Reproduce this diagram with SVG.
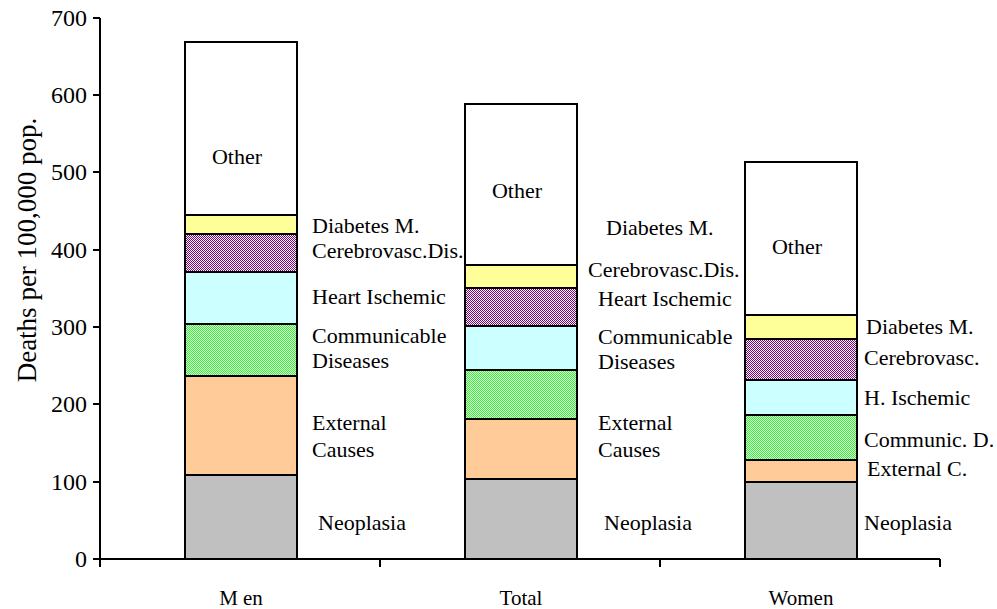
<svg xmlns="http://www.w3.org/2000/svg" width="997" height="609" viewBox="0 0 997 609">
<style>
text{font-family:"Liberation Serif","Times New Roman",serif;font-size:22px;fill:#000}
.ax{stroke:#000;stroke-width:2;fill:none}
.seg{stroke:#000;stroke-width:2}
.tick{font-size:24px}
</style>
<defs>
<pattern id="purp" width="2" height="2" patternUnits="userSpaceOnUse">
<rect width="2" height="2" fill="#ffffff"/>
<rect width="1" height="1" fill="#800080"/>
<rect x="1" y="1" width="1" height="1" fill="#800080"/>
</pattern>
<pattern id="grn" width="2" height="2" patternUnits="userSpaceOnUse">
<rect width="2" height="2" fill="#ccffcc"/>
<rect width="1" height="1" fill="#4ce64c"/>
<rect x="1" y="1" width="1" height="1" fill="#4ce64c"/>
</pattern>
</defs>
<rect width="997" height="609" fill="#fff"/>
<g id="axes">
<line class="ax" x1="100" y1="18" x2="100" y2="559"/>
<line class="ax" x1="100" y1="559" x2="940" y2="559"/>
<g class="ax">
<line x1="93" y1="18" x2="100" y2="18"/>
<line x1="93" y1="95" x2="100" y2="95"/>
<line x1="93" y1="172" x2="100" y2="172"/>
<line x1="93" y1="250" x2="100" y2="250"/>
<line x1="93" y1="327" x2="100" y2="327"/>
<line x1="93" y1="404" x2="100" y2="404"/>
<line x1="93" y1="482" x2="100" y2="482"/>
<line x1="93" y1="559" x2="100" y2="559"/>
<line x1="100" y1="559" x2="100" y2="567"/>
<line x1="380" y1="559" x2="380" y2="567"/>
<line x1="660" y1="559" x2="660" y2="567"/>
<line x1="940" y1="559" x2="940" y2="567"/>
</g>
<g text-anchor="end">
<text class="tick" x="87" y="26">700</text>
<text class="tick" x="87" y="103">600</text>
<text class="tick" x="87" y="180">500</text>
<text class="tick" x="87" y="258">400</text>
<text class="tick" x="87" y="335">300</text>
<text class="tick" x="87" y="412">200</text>
<text class="tick" x="87" y="490">100</text>
<text class="tick" x="87" y="567">0</text>
</g>
<text x="36" y="250" text-anchor="middle" transform="rotate(-90 36 250)" style="font-size:27px">Deaths per 100,000 pop.</text>
<text x="241" y="605" text-anchor="middle" style="font-size:21px">M en</text>
<text x="521" y="605" text-anchor="middle" style="font-size:21px">Total</text>
<text x="801" y="605" text-anchor="middle" style="font-size:21px">Women</text>
</g>
<g id="bar-men">
<rect class="seg" x="185" y="475" width="112" height="84" fill="#c0c0c0"/>
<rect class="seg" x="185" y="376" width="112" height="99" fill="#ffcc99"/>
<rect class="seg" x="185" y="324" width="112" height="52" fill="url(#grn)"/>
<rect class="seg" x="185" y="272" width="112" height="52" fill="#ccffff"/>
<rect class="seg" x="185" y="234" width="112" height="38" fill="url(#purp)"/>
<rect class="seg" x="185" y="215" width="112" height="19" fill="#ffff99"/>
<rect class="seg" x="185" y="42" width="112" height="173" fill="#ffffff"/>
<text x="237" y="164" text-anchor="middle">Other</text>
<text x="312" y="233">Diabetes M.</text>
<text x="312" y="258">Cerebrovasc.Dis.</text>
<text x="312" y="304">Heart Ischemic</text>
<text x="312" y="343">Communicable</text>
<text x="312" y="368">Diseases</text>
<text x="312" y="430">External</text>
<text x="312" y="457">Causes</text>
<text x="318" y="530">Neoplasia</text>
</g>
<g id="bar-total">
<rect class="seg" x="465" y="479" width="112" height="80" fill="#c0c0c0"/>
<rect class="seg" x="465" y="419" width="112" height="60" fill="#ffcc99"/>
<rect class="seg" x="465" y="370" width="112" height="49" fill="url(#grn)"/>
<rect class="seg" x="465" y="326" width="112" height="44" fill="#ccffff"/>
<rect class="seg" x="465" y="288" width="112" height="38" fill="url(#purp)"/>
<rect class="seg" x="465" y="265" width="112" height="23" fill="#ffff99"/>
<rect class="seg" x="465" y="104" width="112" height="161" fill="#ffffff"/>
<text x="517" y="198" text-anchor="middle">Other</text>
<text x="606" y="235">Diabetes M.</text>
<text x="588" y="277">Cerebrovasc.Dis.</text>
<text x="598" y="306">Heart Ischemic</text>
<text x="598" y="344">Communicable</text>
<text x="598" y="369">Diseases</text>
<text x="598" y="430">External</text>
<text x="598" y="457">Causes</text>
<text x="604" y="530">Neoplasia</text>
</g>
<g id="bar-women">
<rect class="seg" x="745" y="482" width="112" height="77" fill="#c0c0c0"/>
<rect class="seg" x="745" y="460" width="112" height="22" fill="#ffcc99"/>
<rect class="seg" x="745" y="415" width="112" height="45" fill="url(#grn)"/>
<rect class="seg" x="745" y="380" width="112" height="35" fill="#ccffff"/>
<rect class="seg" x="745" y="339" width="112" height="41" fill="url(#purp)"/>
<rect class="seg" x="745" y="315" width="112" height="24" fill="#ffff99"/>
<rect class="seg" x="745" y="162" width="112" height="153" fill="#ffffff"/>
<text x="797" y="254" text-anchor="middle">Other</text>
<text x="866" y="334">Diabetes M.</text>
<text x="864" y="365">Cerebrovasc.</text>
<text x="864" y="405">H. Ischemic</text>
<text x="864" y="447">Communic. D.</text>
<text x="867" y="476">External C.</text>
<text x="864" y="530">Neoplasia</text>
</g>
</svg>
